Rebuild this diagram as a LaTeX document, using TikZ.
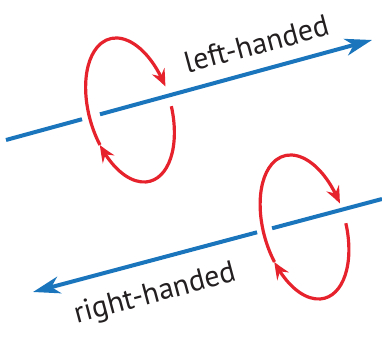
\documentclass[tikz,border=0pt]{standalone}
\usepackage{fontspec}
\setmainfont{PT Sans}
\usetikzlibrary{arrows.meta,calc,bending}
\definecolor{axisblue}{RGB}{27,117,188}
\definecolor{ringred}{RGB}{230,35,45}
\definecolor{labelgray}{RGB}{35,31,32}
\tikzset{
  axisline/.style={draw=axisblue, line width=4pt},
  axisarrow/.style={axisline, -{Stealth[length=27pt,width=17pt,inset=8pt]}},
  ringarc/.style={draw=ringred, line width=3.2pt, -{Stealth[length=17pt,width=14pt,inset=6pt,bend]}},
  handlabel/.style={text=labelgray, font=\fontsize{30}{36}\selectfont, anchor=base, rotate=15, inner sep=0pt},
}
\begin{document}
\begin{tikzpicture}[x=1pt,y=1pt]
\useasboundingbox (0,0) rectangle (382,347);
% ---- top: left-handed ----
\coordinate (s1) at (6,207);
\coordinate (e1) at (372,307);
\coordinate (g1a) at ($(s1)!0.2077!(e1)$);
\coordinate (g1b) at ($(s1)!0.2568!(e1)$);
\draw[axisline] (s1) -- (g1a);
\draw[axisarrow] (g1b) -- (e1);
\begin{scope}[shift={(130,237)}, rotate=16]
  \coordinate (r1a) at ({41*cos(-6)},{74*sin(-6)});
  \coordinate (r1b) at ({41*cos(-160)},{74*sin(-160)});
  \draw[ringarc] (r1a) arc[start angle=-6, end angle=-160, x radius=41pt, y radius=74pt];
  \draw[ringarc] (r1b) arc[start angle=-160, end angle=-350, x radius=41pt, y radius=74pt];
\end{scope}
\node[handlabel] (lh) at (259,293) {left-handed};
% ---- bottom: right-handed ----
\coordinate (s2) at (382,148);
\coordinate (e2) at (33,55);
\coordinate (g2a) at ($(s2)!0.315!(e2)$);
\coordinate (g2b) at ($(s2)!0.358!(e2)$);
\draw[axisline] (s2) -- (g2a);
\draw[axisarrow] (g2b) -- (e2);
\begin{scope}[shift={(304.5,120)}, rotate=16]
  \coordinate (r2a) at ({41*cos(-6)},{74*sin(-6)});
  \coordinate (r2b) at ({41*cos(-160)},{74*sin(-160)});
  \draw[ringarc] (r2a) arc[start angle=-6, end angle=-160, x radius=41pt, y radius=74pt];
  \draw[ringarc] (r2b) arc[start angle=-160, end angle=-350, x radius=41pt, y radius=74pt];
\end{scope}
\node[handlabel] (rh) at (157,45) {right-handed};
\end{tikzpicture}
\end{document}
